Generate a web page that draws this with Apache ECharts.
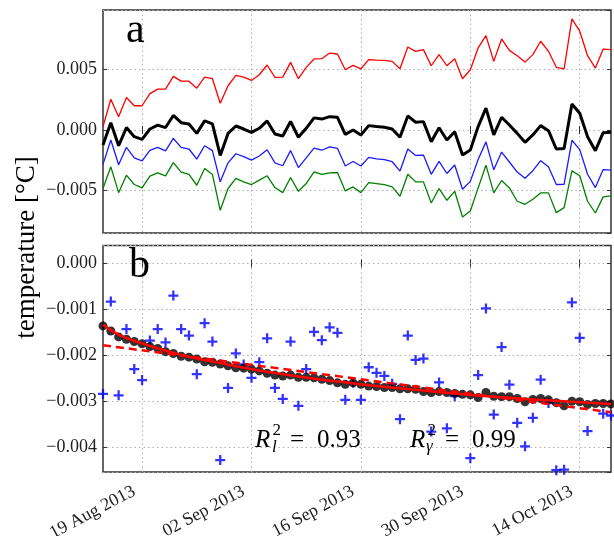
<!DOCTYPE html>
<html>
<head>
<meta charset="utf-8">
<script src="https://cdn.jsdelivr.net/npm/echarts@6/dist/echarts.min.js"></script>
<style>
html,body{margin:0;padding:0;background:#fff;}
#chart{width:614px;height:536px;}
</style>
</head>
<body>
<div id="chart"></div>
<script>
// ---- categories (daily) ----
const days = [
 '2013-08-14','2013-08-15','2013-08-16','2013-08-17','2013-08-18','2013-08-19','2013-08-20','2013-08-21','2013-08-22','2013-08-23',
 '2013-08-24','2013-08-25','2013-08-26','2013-08-27','2013-08-28','2013-08-29','2013-08-30','2013-08-31','2013-09-01','2013-09-02',
 '2013-09-03','2013-09-04','2013-09-05','2013-09-06','2013-09-07','2013-09-08','2013-09-09','2013-09-10','2013-09-11','2013-09-12',
 '2013-09-13','2013-09-14','2013-09-15','2013-09-16','2013-09-17','2013-09-18','2013-09-19','2013-09-20','2013-09-21','2013-09-22',
 '2013-09-23','2013-09-24','2013-09-25','2013-09-26','2013-09-27','2013-09-28','2013-09-29','2013-09-30','2013-10-01','2013-10-02',
 '2013-10-03','2013-10-04','2013-10-05','2013-10-06','2013-10-07','2013-10-08','2013-10-09','2013-10-10','2013-10-11','2013-10-12',
 '2013-10-13','2013-10-14','2013-10-15','2013-10-16','2013-10-17','2013-10-18'
];
const tickDays = ['2013-08-19','2013-09-02','2013-09-16','2013-09-30','2013-10-14'];
const tickLabels = ['19 Aug 2013','02 Sep 2013','16 Sep 2013','30 Sep 2013','14 Oct 2013'];

// ---- panel a ----
const redLine = [0.00028,0.00254,0.0011,0.00268,0.0020,0.0020,0.0030,0.00337,0.00337,0.00442,
 0.00403,0.00403,0.00345,0.00436,0.00423,0.0022,0.00365,0.0045,0.00436,0.00409,
 0.00456,0.00536,0.00434,0.00436,0.00558,0.00423,0.00517,0.00586,0.00588,0.00635,
 0.00627,0.00497,0.00533,0.00505,0.0058,0.00577,0.00575,0.00566,0.00505,0.00685,
 0.00649,0.00663,0.0053,0.00622,0.0053,0.00588,0.00423,0.00497,0.00677,0.00779,
 0.00566,0.00751,0.00657,0.00613,0.0056,0.00622,0.00732,0.00649,0.00517,0.00505,
 0.00917,0.00815,0.00613,0.00511,0.00668,0.00663];
const blackLine = [-0.00124,0.0006,-0.0013,0.0002,-0.00055,-0.00077,0.00008,0.0004,0.0002,0.0012,
 0.0006,0.0005,-0.00028,0.00075,0.0005,-0.0021,-0.00028,0.00033,0.00008,-0.0002,
 0.00014,0.00075,-0.00033,-0.0005,0.0007,-0.0006,0.00014,0.001,0.0009,0.0011,
 0.00105,-0.00036,0.0,-0.00041,0.00036,0.00028,0.00022,0.00008,-0.0006,0.00116,
 0.00064,0.00069,-0.00097,0.00019,-0.00083,-0.00014,-0.00207,-0.00166,0.00028,0.0018,
 -0.00041,0.00105,0.00041,-0.00028,-0.00102,-0.00041,0.00036,-0.00006,-0.00157,-0.00152,
 0.00215,0.00138,-0.00055,-0.00171,-0.00022,-0.00019];
const blueLine = [-0.00284,-0.00083,-0.00287,-0.00143,-0.0023,-0.00254,-0.00168,-0.00143,-0.00172,-0.0007,
 -0.00143,-0.00157,-0.00241,-0.0013,-0.0017,-0.00428,-0.00271,-0.00196,-0.0022,-0.00249,
 -0.00215,-0.00163,-0.00271,-0.00295,-0.0017,-0.0031,-0.0023,-0.00149,-0.00167,-0.00139,
 -0.00151,-0.00297,-0.0026,-0.00297,-0.00226,-0.00238,-0.00245,-0.00262,-0.00339,-0.00157,
 -0.0021,-0.00207,-0.00366,-0.00259,-0.00359,-0.00289,-0.00489,-0.00424,-0.00243,-0.00098,
 -0.00329,-0.00182,-0.00264,-0.00347,-0.00398,-0.00336,-0.00253,-0.00304,-0.0045,-0.00449,
 -0.00085,-0.00162,-0.00365,-0.00475,-0.00327,-0.00331];
const greenLine = [-0.00483,-0.00304,-0.00517,-0.00373,-0.0045,-0.00478,-0.00381,-0.00354,-0.00378,-0.0027,
 -0.00348,-0.00367,-0.00456,-0.00318,-0.00367,-0.00663,-0.00483,-0.004,-0.00428,-0.0045,
 -0.00414,-0.00378,-0.00475,-0.00517,-0.00392,-0.00506,-0.00442,-0.00345,-0.00367,-0.00354,
 -0.00351,-0.00503,-0.0047,-0.00517,-0.00434,-0.00442,-0.0045,-0.0047,-0.00547,-0.00365,
 -0.00428,-0.00428,-0.00602,-0.00483,-0.0058,-0.00506,-0.00718,-0.00669,-0.00478,-0.0029,
 -0.00519,-0.00417,-0.00478,-0.00588,-0.00613,-0.00572,-0.00519,-0.00519,-0.00682,-0.00641,
 -0.00337,-0.00378,-0.00588,-0.00685,-0.00552,-0.00544];

// ---- panel b ----
const blackDots = [-0.00136,-0.00147,-0.0016,-0.00165,-0.0017,-0.00175,-0.00181,-0.00185,-0.00192,-0.00196,
 -0.00202,-0.00204,-0.00208,-0.00214,-0.00215,-0.00219,-0.00223,-0.00227,-0.00228,-0.0023,
 -0.00234,-0.00239,-0.00243,-0.00245,-0.00243,-0.00248,-0.00248,-0.00249,-0.00252,-0.00255,
 -0.0026,-0.00263,-0.0026,-0.00263,-0.00267,-0.00268,-0.0027,-0.0027,-0.00273,-0.00273,
 -0.00274,-0.00279,-0.00281,-0.00279,-0.00281,-0.00283,-0.00285,-0.00286,-0.00292,-0.00281,
 -0.00289,-0.0029,-0.0029,-0.00294,-0.00301,-0.00296,-0.00294,-0.00297,-0.00303,-0.0031,
 -0.003,-0.00301,-0.00307,-0.00305,-0.00305,-0.00306];
const expFitIdx = [0,2,5,10,15,20,25,30,35,40,45,50,55,60,65];
const expFitVal = [-0.00133,-0.00155,-0.00174,-0.00199,-0.00217,-0.00233,-0.00246,-0.00257,-0.00267,-0.00275,-0.00283,-0.0029,-0.00296,-0.00301,-0.00306];
const linFitIdx = [0,65];
const linFitVal = [-0.00178,-0.00324];

const SERIF = '"Liberation Serif", serif';
const fmt = v => { if (Math.abs(v) < 1e-12) v = 0; return (v < 0 ? '\u2212' : '') + Math.abs(v).toFixed(3); };
const isTick = (i, v) => tickDays.indexOf(v) >= 0;
const gridLine = {show: true, interval: isTick, lineStyle: {type: [1.5, 3], color: '#b0b0b0', width: 1}};
const ySplit = {show: true, lineStyle: {type: [1.5, 3], color: '#b0b0b0', width: 1}};
const axTick = {show: true, inside: true, length: 4, lineStyle: {color: '#333', width: 1}};
const pairs = (idx, val) => idx.map((k, j) => [k, val[j]]);
const plusPath = 'path://M4.25,0h2.5v4.25h4.25v2.5h-4.25v4.25h-2.5v-4.25h-4.25v-2.5h4.25z';
const yRangeA = {min: -0.0085, max: 0.0099, splitNumber: 4};
const yRangeB = {min: -0.00454, max: 0.00039, splitNumber: 5};
const mirrorX = g => ({type: 'category', gridIndex: g, position: 'top', data: days, boundaryGap: false,
  axisLine: {show: false}, axisTick: Object.assign({interval: isTick}, axTick), axisLabel: {show: false}, splitLine: {show: false}});
const mirrorY = (g, r) => Object.assign({type: 'value', gridIndex: g, position: 'right',
  axisLine: {show: false}, axisTick: axTick, axisLabel: {show: false}, splitLine: {show: false}}, r);

const chart = echarts.init(document.getElementById('chart'), null, {renderer: 'canvas'});
chart.setOption({
  animation: false,
  backgroundColor: '#fff',
  textStyle: {fontFamily: SERIF},
  grid: [
    {left: 103, right: 3, top: 10, height: 223, show: true, borderColor: '#333', borderWidth: 1.5, backgroundColor: 'transparent', outerBoundsMode: 'none', containLabel: false},
    {left: 103, right: 3, top: 245.5, height: 226.5, show: true, borderColor: '#333', borderWidth: 1.5, backgroundColor: 'transparent', outerBoundsMode: 'none', containLabel: false}
  ],
  xAxis: [
    {type: 'category', gridIndex: 0, data: days, boundaryGap: false,
     axisLine: {show: false}, axisTick: Object.assign({interval: isTick}, axTick),
     axisLabel: {show: false}, splitLine: gridLine},
    {type: 'category', gridIndex: 1, data: days, boundaryGap: false,
     axisLine: {show: false}, axisTick: Object.assign({interval: isTick}, axTick),
     axisLabel: {interval: isTick, rotate: 28, margin: 14, padding: [0, 9, 0, 0], fontFamily: SERIF, fontSize: 18, color: '#222',
       formatter: v => tickLabels[tickDays.indexOf(v)]},
     splitLine: gridLine},
    mirrorX(0),
    mirrorX(1)
  ],
  yAxis: [
    Object.assign({type: 'value', gridIndex: 0,
     axisLine: {show: false}, axisTick: axTick, splitLine: ySplit,
     axisLabel: {showMinLabel: false, showMaxLabel: false, margin: 6, fontFamily: SERIF, fontSize: 18, color: '#222', formatter: fmt}}, yRangeA),
    Object.assign({type: 'value', gridIndex: 1,
     axisLine: {show: false}, axisTick: axTick, splitLine: ySplit,
     axisLabel: {showMinLabel: false, showMaxLabel: false, margin: 6, fontFamily: SERIF, fontSize: 18, color: '#222', formatter: fmt}}, yRangeB),
    mirrorY(0, yRangeA),
    mirrorY(1, yRangeB)
  ],
  series: [
    {type: 'line', xAxisIndex: 0, yAxisIndex: 0, data: redLine, showSymbol: false, symbol: 'none', lineStyle: {color: '#ff0000', width: 1.3}},
    {type: 'line', xAxisIndex: 0, yAxisIndex: 0, data: blueLine, showSymbol: false, symbol: 'none', lineStyle: {color: '#1a1aff', width: 1.3}},
    {type: 'line', xAxisIndex: 0, yAxisIndex: 0, data: greenLine, showSymbol: false, symbol: 'none', lineStyle: {color: '#008000', width: 1.3}},
    {type: 'line', xAxisIndex: 0, yAxisIndex: 0, data: blackLine, showSymbol: false, symbol: 'none', lineStyle: {color: '#000', width: 3}},
    {type: 'scatter', xAxisIndex: 1, yAxisIndex: 1, data: blueLine, symbol: plusPath, symbolSize: 10, clip: true,
     itemStyle: {color: '#0000ff'}, z: 2},
    {type: 'scatter', xAxisIndex: 1, yAxisIndex: 1, data: blackDots, symbol: 'circle', symbolSize: 9, clip: true,
     itemStyle: {color: '#000'}, z: 3},
    {type: 'line', xAxisIndex: 1, yAxisIndex: 1, data: pairs(expFitIdx, expFitVal), smooth: true, symbol: 'none',
     lineStyle: {color: '#ff0000', width: 2.5}, z: 4},
    {type: 'line', xAxisIndex: 1, yAxisIndex: 1, data: pairs(linFitIdx, linFitVal), symbol: 'none',
     lineStyle: {color: '#ff0000', width: 2.5, type: [8, 5]}, z: 5}
  ],
  graphic: [
    {type: 'text', x: 126, y: 31, style: {text: 'a', font: '42px "Liberation Serif", serif', fill: '#000', verticalAlign: 'middle'}, z: 10},
    {type: 'text', x: 129, y: 266, style: {text: 'b', font: '42px "Liberation Serif", serif', fill: '#000', verticalAlign: 'middle'}, z: 10},
    {type: 'text', x: 27, y: 247.5, rotation: Math.PI / 2, style: {text: 'temperature [°C]', font: '27px "Liberation Serif", serif', fill: '#000', align: 'center', verticalAlign: 'middle'}},
    // R_l^2 = 0.93
    {type: 'text', x: 255, y: 440, style: {text: 'R', font: 'italic 25px "Liberation Serif", serif', fill: '#000', verticalAlign: 'middle'}, z: 10},
    {type: 'text', x: 272.5, y: 431, style: {text: '2', font: '17px "Liberation Serif", serif', fill: '#000', verticalAlign: 'middle'}, z: 10},
    {type: 'text', x: 272, y: 448, style: {text: 'l', font: 'italic 17px "Liberation Serif", serif', fill: '#000', verticalAlign: 'middle'}, z: 10},
    {type: 'text', x: 290, y: 440, style: {text: '=', font: '25px "Liberation Serif", serif', fill: '#000', verticalAlign: 'middle'}, z: 10},
    {type: 'text', x: 317, y: 440, style: {text: '0.93', font: '25px "Liberation Serif", serif', fill: '#000', verticalAlign: 'middle'}, z: 10},
    // R_gamma^2 = 0.99
    {type: 'text', x: 410, y: 440, style: {text: 'R', font: 'italic 25px "Liberation Serif", serif', fill: '#000', verticalAlign: 'middle'}, z: 10},
    {type: 'text', x: 427.5, y: 431, style: {text: '2', font: '17px "Liberation Serif", serif', fill: '#000', verticalAlign: 'middle'}, z: 10},
    {type: 'text', x: 426, y: 447, style: {text: 'γ', font: 'italic 17px "Liberation Serif", serif', fill: '#000', verticalAlign: 'middle'}, z: 10},
    {type: 'text', x: 445, y: 440, style: {text: '=', font: '25px "Liberation Serif", serif', fill: '#000', verticalAlign: 'middle'}, z: 10},
    {type: 'text', x: 472, y: 440, style: {text: '0.99', font: '25px "Liberation Serif", serif', fill: '#000', verticalAlign: 'middle'}, z: 10}
  ]
});
</script>
</body>
</html>
